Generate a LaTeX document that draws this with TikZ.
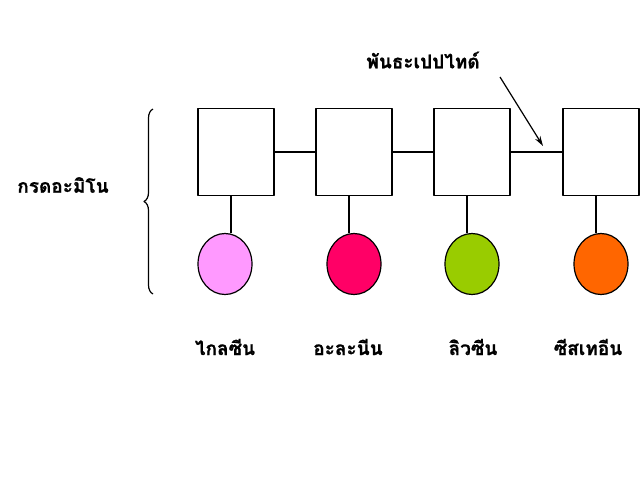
\documentclass[tikz,border=0pt]{standalone}
\usepackage{fontspec}
\newfontfamily\thaifont[Script=Thai,BoldFeatures={FakeBold=0.8}]{Loma}
\usetikzlibrary{calc,arrows.meta,positioning,shapes.geometric,decorations.pathreplacing}

\definecolor{glypink}{HTML}{FF99FF}
\definecolor{alared}{HTML}{FF0066}
\definecolor{leugreen}{HTML}{99CC00}
\definecolor{cysorange}{HTML}{FF6600}

\tikzset{
  resbox/.style={draw,line width=1.2pt,fill=white,minimum width=76pt,minimum height=87pt,inner sep=0pt},
  sidechain/.style={draw,line width=1.2pt,ellipse,minimum width=54pt,minimum height=61pt,inner sep=0pt},
  thailbl/.style={font=\thaifont\bfseries\fontsize{19}{22}\selectfont,inner sep=0pt}
}

\begin{document}
\begin{tikzpicture}[x=1pt,y=-1pt,>={Stealth[length=10pt,width=6pt]},line join=round]
  \useasboundingbox (0,0) rectangle (640,480);
  % residues
  \node[resbox] (b1) at (236,152) {};
  \node[resbox] (b2) at (354,152) {};
  \node[resbox] (b3) at (472,152) {};
  \node[resbox] (b4) at (601,152) {};
  \draw[line width=1.2pt] (b1.east)--(b2.west);
  \draw[line width=1.2pt] (b2.east)--(b3.west);
  \draw[line width=1.2pt] (b3.east)--(b4.west);
  % side chains
  \node[sidechain,fill=glypink] (c1) at (225,264) {};
  \node[sidechain,fill=alared] (c2) at (354,264) {};
  \node[sidechain,fill=leugreen] (c3) at (472,264) {};
  \node[sidechain,fill=cysorange] (c4) at (601,264) {};
  \foreach \i in {1,...,4}
    \draw[line width=1.2pt] ([xshift=-5]b\i.south)--([xshift=-5]b\i.south |- c\i.north);
  % names
  \node[thailbl] (n1) at (225,347) {ไกลซีน};
  \node[thailbl] (n2) at (348,347) {อะละนีน};
  \node[thailbl] (n3) at (473,347) {ลิวซีน};
  \node[thailbl] (n4) at (588,347) {ซีสเทอีน};
  \node[thailbl] (aa) at (63,185) {กรดอะมิโน};
  \draw[line width=1.2pt,decorate,decoration={brace,amplitude=9pt}] (153,294)--(153,109);
  % peptide bond
  \node[thailbl] (pb) at (423,60) {พันธะเปปไทด์};
  \coordinate (bond) at (543,146);
  \draw[line width=1.2pt,->] (500,77)--(bond);
\end{tikzpicture}
\end{document}
